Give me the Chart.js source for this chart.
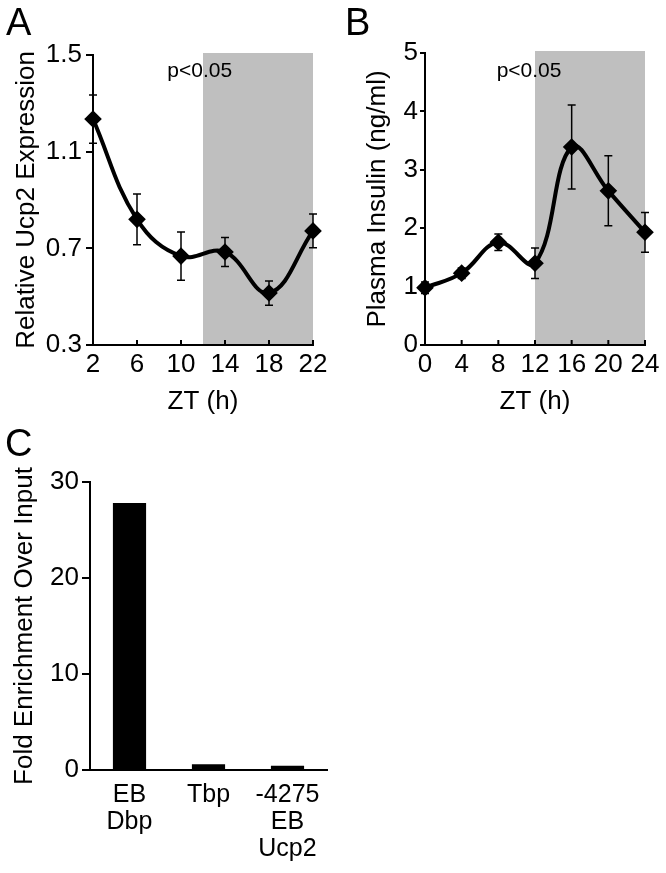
<!DOCTYPE html>
<html>
<head>
<meta charset="utf-8">
<script src="https://cdn.jsdelivr.net/npm/chart.js@4.4.0/dist/chart.umd.min.js"></script>
<style>
  body { margin: 0; background: #fff; }
  #wrap { position: relative; width: 666px; height: 873px; }
  canvas { position: absolute; }
  .lab { position: absolute; font-family: 'Liberation Sans', Arial, sans-serif; font-size: 38px; line-height: 38px; color: #000; }
</style>
</head>
<body>
<div id="wrap">
  <canvas id="chartA" width="333" height="420" style="left:0;top:0"></canvas>
  <canvas id="chartB" width="333" height="420" style="left:333px;top:0"></canvas>
  <canvas id="chartC" width="340" height="453" style="left:0;top:420px"></canvas>
  <div class="lab" style="left:6px;top:3px">A</div>
  <div class="lab" style="left:345px;top:3px">B</div>
  <div class="lab" style="left:5px;top:424px">C</div>
</div>
<script>
// Painel A: expressão relativa de Ucp2
const ztA = [2, 6, 10, 14, 18, 22];
const ucp2Expr = [1.235, 0.82, 0.668, 0.685, 0.515, 0.772];
const ucp2Err = [0.10, 0.105, 0.10, 0.06, 0.05, 0.07];

// Painel B: insulina plasmática
const ztB = [0, 4, 8, 12, 16, 20, 24];
const insulin = [0.98, 1.23, 1.76, 1.40, 3.39, 2.64, 1.93];
const insulinErr = [0.10, 0.09, 0.14, 0.26, 0.72, 0.60, 0.34];

// Painel C: ChIP
const sitesC = [["EB", "Dbp"], ["Tbp"], ["-4275", "EB", "Ucp2"]];
const enrichment = [27.8, 0.6, 0.45];

const FONT = "'Liberation Sans', Arial, sans-serif";
Chart.defaults.font.family = FONT;
Chart.defaults.color = "#000";

// Faixa cinza (fase escura)
const shade = {
  id: "shade",
  beforeDraw(chart, args, opts) {
    const { ctx, scales: { x, y } } = chart;
    const x0 = x.getPixelForValue(opts.from);
    const x1 = x.getPixelForValue(opts.to);
    ctx.save();
    ctx.fillStyle = "#bfbfbf";
    ctx.fillRect(x0, y.top - 2, x1 - x0, y.bottom - y.top + 2);
    ctx.restore();
  }
};

// Barras de erro
const errorBars = {
  id: "errorBars",
  beforeDatasetsDraw(chart) {
    const { ctx, scales: { x, y } } = chart;
    chart.data.datasets.forEach(ds => {
      if (!ds.errors) return;
      ctx.save();
      ctx.strokeStyle = "#000";
      ctx.lineWidth = 1.5;
      ds.data.forEach((p, i) => {
        const px = x.getPixelForValue(p.x);
        const top = y.getPixelForValue(p.y + ds.errors[i]);
        const bot = y.getPixelForValue(p.y - ds.errors[i]);
        ctx.beginPath();
        ctx.moveTo(px, top); ctx.lineTo(px, bot);
        ctx.moveTo(px - 4, top); ctx.lineTo(px + 4, top);
        ctx.moveTo(px - 4, bot); ctx.lineTo(px + 4, bot);
        ctx.stroke();
      });
      ctx.restore();
    });
  }
};

// Ticks do eixo x para dentro
const innerTicks = {
  id: "innerTicks",
  afterDatasetsDraw(chart) {
    const { ctx, scales: { x } } = chart;
    ctx.save();
    ctx.strokeStyle = "#000";
    ctx.lineWidth = 2;
    x.ticks.forEach(t => {
      const px = x.getPixelForValue(t.value);
      ctx.beginPath();
      ctx.moveTo(px, x.top);
      ctx.lineTo(px, x.top - 5);
      ctx.stroke();
    });
    ctx.restore();
  }
};

// Texto p<0.05
const pLabel = {
  id: "pLabel",
  afterDraw(chart, args, opts) {
    const { ctx, scales: { x, y } } = chart;
    ctx.save();
    ctx.font = "21px " + FONT;
    ctx.fillStyle = "#000";
    ctx.textAlign = "center";
    ctx.textBaseline = "alphabetic";
    ctx.fillText(opts.text, x.getPixelForValue(opts.x), y.getPixelForValue(opts.y));
    ctx.restore();
  }
};

function graficoLinha(id, xs, ys, errs, o) {
  return new Chart(document.getElementById(id), {
    type: "line",
    data: {
      datasets: [{
        data: xs.map((x, i) => ({ x: x, y: ys[i] })),
        errors: errs,
        borderColor: "#000",
        borderWidth: 4,
        tension: 0.4,
        pointStyle: "rectRot",
        pointRadius: 6,
        pointBackgroundColor: "#000",
        pointBorderColor: "#000",
        clip: false
      }]
    },
    plugins: [shade, errorBars, innerTicks, pLabel],
    options: {
      responsive: false,
      animation: false,
      devicePixelRatio: 1,
      layout: { padding: { left: 0, right: o.padRight, top: o.padTop, bottom: 0 } },
      plugins: {
        legend: { display: false },
        tooltip: { enabled: false },
        shade: { from: 12, to: o.xMax },
        pLabel: { text: "p<0.05", x: o.pX, y: o.pY }
      },
      scales: {
        x: {
          type: "linear",
          min: o.xMin, max: o.xMax,
          ticks: { stepSize: 4, font: { size: 26 }, padding: 4, color: "#000" },
          grid: { display: false, drawTicks: false },
          border: { color: "#000", width: 2 },
          title: { display: true, text: "ZT (h)", font: { size: 26 }, padding: 3, color: "#000" },
          afterFit: s => { s.height = 75; }
        },
        y: {
          min: o.yMin, max: o.yMax,
          ticks: { stepSize: o.yStep, font: { size: 26 }, padding: o.yPad, color: "#000",
                   callback: v => o.yDec ? v.toFixed(o.yDec) : v },
          grid: { drawOnChartArea: false, drawTicks: true, tickLength: o.tickLen, color: "#000", lineWidth: 2 },
          border: { color: "#000", width: 2 },
          title: { display: true, text: o.yTitle, font: { size: 26 }, padding: o.titlePad, color: "#000" },
          afterFit: s => { s.width = o.yWidth; }
        }
      }
    }
  });
}

graficoLinha("chartA", ztA, ucp2Expr, ucp2Err, {
  xMin: 2, xMax: 22, yMin: 0.3, yMax: 1.5, yStep: 0.4, yDec: 1,
  yTitle: "Relative Ucp2 Expression", yWidth: 93, padRight: 20, padTop: 55,
  tickLen: 7, yPad: 4, titlePad: 11, pX: 11.7, pY: 1.41
});

graficoLinha("chartB", ztB, insulin, insulinErr, {
  xMin: 0, xMax: 24, yMin: 0, yMax: 5, yStep: 1, yDec: 0,
  yTitle: "Plasma Insulin (ng/ml)", yWidth: 92, padRight: 21, padTop: 53,
  tickLen: 5, yPad: 2, titlePad: 29, pX: 11.35, pY: 4.59
});

new Chart(document.getElementById("chartC"), {
  type: "bar",
  data: {
    labels: sitesC,
    datasets: [{
      data: enrichment,
      backgroundColor: "#000",
      barPercentage: 0.42,
      categoryPercentage: 1
    }]
  },
  options: {
    responsive: false,
    animation: false,
    devicePixelRatio: 1,
    layout: { padding: { left: 0, right: 13, top: 62, bottom: 0 } },
    plugins: { legend: { display: false }, tooltip: { enabled: false } },
    scales: {
      x: {
        ticks: { font: { size: 25, lineHeight: 1.08 }, padding: 12, color: "#000", maxRotation: 0, autoSkip: false },
        grid: { display: false, drawTicks: false },
        border: { color: "#000", width: 2 },
        afterFit: s => { s.height = 103; }
      },
      y: {
        min: 0, max: 30,
        ticks: { stepSize: 10, font: { size: 26 }, padding: 3, color: "#000" },
        grid: { drawOnChartArea: false, drawTicks: true, tickLength: 8, color: "#000", lineWidth: 2 },
        border: { color: "#000", width: 2 },
        title: { display: true, text: "Fold Enrichment Over Input", font: { size: 26 }, padding: 9, color: "#000" },
        afterFit: s => { s.width = 90; }
      }
    }
  }
});
</script>
</body>
</html>
